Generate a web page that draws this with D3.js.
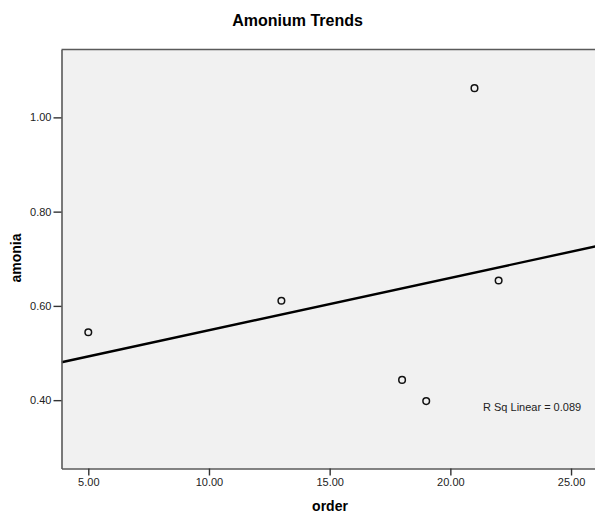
<!DOCTYPE html>
<html>
<head>
<meta charset="utf-8">
<script src="https://cdn.jsdelivr.net/npm/d3@7"></script>
<style>
  body { margin: 0; background: #fff; }
  svg { display: block; font-family: "Liberation Sans", Arial, sans-serif; }
</style>
</head>
<body>
<div id="chart"></div>
<script>
// data
var order = [5, 13, 18, 19, 21, 22];
var amonia = [0.544, 0.611, 0.443, 0.398, 1.062, 0.654];
var xTicks = [5, 10, 15, 20, 25];
var yTicks = [0.40, 0.60, 0.80, 1.00];

var width = 595, height = 519;
var pLeft = 61.5, pTop = 49.5, pBottom = 468.5, pRight = 600;

var svg = d3.select('#chart').append('svg')
  .attr('width', width)
  .attr('height', height);

var x = d3.scaleLinear().domain([3.89, 26.2]).range([pLeft, pRight]);
var y = d3.scaleLinear().domain([0.255, 1.144]).range([pBottom, pTop]);

svg.append('rect')
  .attr('x', pLeft)
  .attr('y', pTop)
  .attr('width', pRight - pLeft)
  .attr('height', pBottom - pTop)
  .attr('fill', '#f1f1f1');

// least squares fit
var mx = d3.mean(order), my = d3.mean(amonia);
var sxy = d3.sum(order, function (d, i) { return (d - mx) * (amonia[i] - my); });
var sxx = d3.sum(order, function (d) { return (d - mx) * (d - mx); });
var syy = d3.sum(amonia, function (d) { return (d - my) * (d - my); });
var slope = sxy / sxx;
var icpt = my - slope * mx;
var rsq = sxy * sxy / (sxx * syy);

svg.append('clipPath').attr('id', 'clip')
  .append('rect')
  .attr('x', pLeft).attr('y', pTop)
  .attr('width', pRight - pLeft).attr('height', pBottom - pTop);

var xs = x.domain();
svg.append('line')
  .attr('clip-path', 'url(#clip)')
  .attr('x1', x(xs[0]))
  .attr('y1', y(icpt + slope * xs[0]))
  .attr('x2', x(xs[1]))
  .attr('y2', y(icpt + slope * xs[1]))
  .attr('stroke', '#000')
  .attr('stroke-width', 2.4);

svg.selectAll('circle.pt')
  .data(order)
  .enter().append('circle')
  .attr('class', 'pt')
  .attr('cx', function (d) { return x(d); })
  .attr('cy', function (d, i) { return y(amonia[i]); })
  .attr('r', 3.3)
  .attr('fill', 'none')
  .attr('stroke', '#111')
  .attr('stroke-width', 1.5);

// axes
var xAxis = svg.append('g')
  .attr('transform', 'translate(0,' + pBottom + ')')
  .call(d3.axisBottom(x).tickValues(xTicks).tickFormat(d3.format('.2f'))
    .tickSize(7).tickPadding(3).tickSizeOuter(0));
var yAxis = svg.append('g')
  .attr('transform', 'translate(' + pLeft + ',0)')
  .call(d3.axisLeft(y).tickValues(yTicks).tickFormat(d3.format('.2f'))
    .tickSize(8).tickPadding(2).tickSizeOuter(0));

[xAxis, yAxis].forEach(function (a) {
  a.select('.domain').attr('stroke', '#5a5a5a').attr('stroke-width', 1.6);
  a.selectAll('.tick line').attr('stroke', '#333').attr('stroke-width', 1.4);
  a.selectAll('.tick text')
    .attr('fill', '#222')
    .style('font-size', '11px')
    .style('font-family', '"Liberation Sans", Arial, sans-serif');
});

// top border
svg.append('line')
  .attr('x1', pLeft).attr('y1', pTop)
  .attr('x2', pRight).attr('y2', pTop)
  .attr('stroke', '#5a5a5a')
  .attr('stroke-width', 1.6);

svg.append('text')
  .attr('x', width / 2)
  .attr('y', 26)
  .attr('text-anchor', 'middle')
  .style('font-size', '16px')
  .style('font-weight', 'bold')
  .text('Amonium Trends');

svg.append('text')
  .attr('x', 330)
  .attr('y', 511)
  .attr('text-anchor', 'middle')
  .style('font-size', '14px')
  .style('font-weight', 'bold')
  .text('order');

svg.append('text')
  .attr('transform', 'translate(21,258) rotate(-90)')
  .attr('text-anchor', 'middle')
  .style('font-size', '14px')
  .style('font-weight', 'bold')
  .text('amonia');

svg.append('text')
  .attr('x', 483)
  .attr('y', 411)
  .attr('fill', '#222')
  .style('font-size', '11px')
  .text('R Sq Linear = ' + d3.format('.3f')(rsq));
</script>
</body>
</html>
